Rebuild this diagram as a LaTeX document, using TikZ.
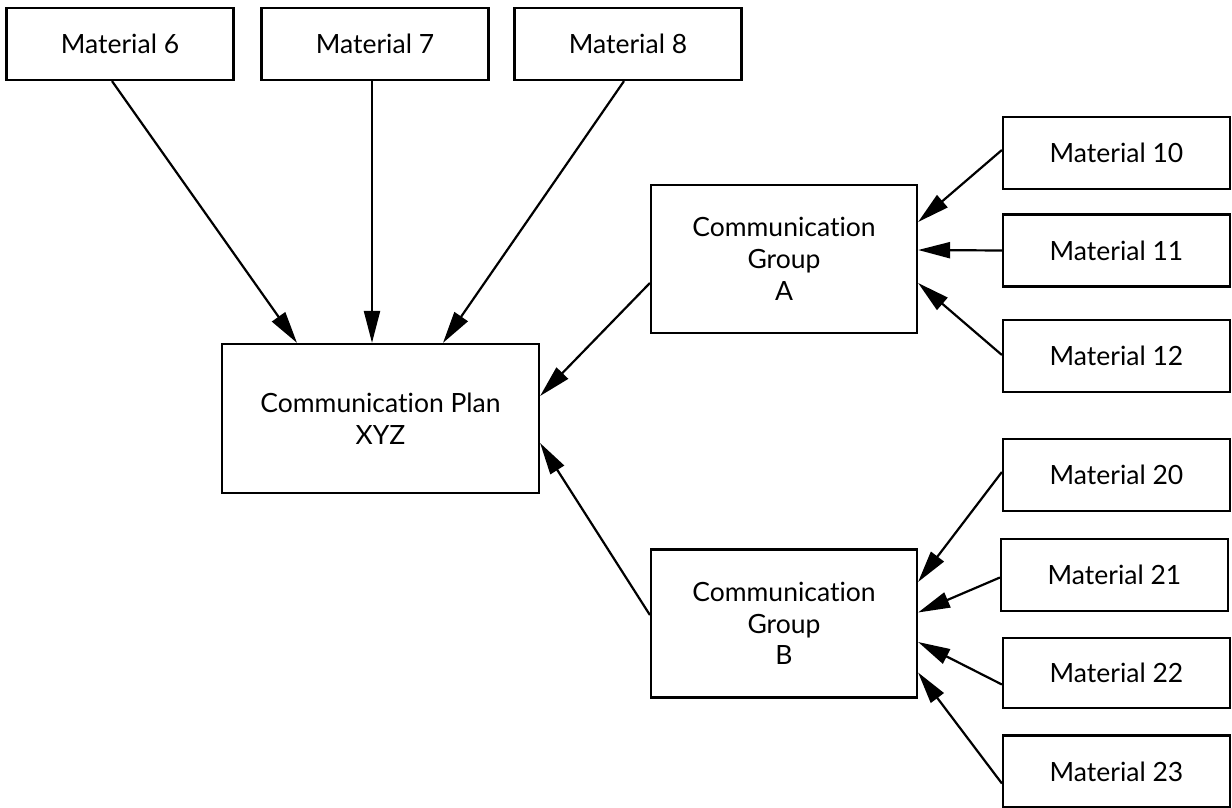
\documentclass[tikz,border=0pt]{standalone}
\usepackage{fontspec}
\setmainfont{Lato}[Ligatures=NoCommon]
\usetikzlibrary{arrows.meta}
\begin{document}
\begin{tikzpicture}[x=1pt,y=-1pt,
  box/.style={draw, line width=2.2pt, inner sep=0pt, align=center,
    font=\fontsize{26.5}{31.7}\selectfont},
  mat/.style={box, minimum width=227pt, minimum height=72pt},
  grp/.style={box, minimum width=266pt, minimum height=148pt},
  link/.style={line width=2.2pt, -{Triangle[length=32pt,width=16pt]}}]
\useasboundingbox (0,0) rectangle (1232,808);

% top row of materials
\node[mat] (m6) at (120,44) {Material 6};
\node[mat] (m7) at (375,44) {Material 7};
\node[mat] (m8) at (628,44) {Material 8};

% plan and the two groups
\node[box, minimum width=317pt, minimum height=149pt] (plan) at (380.5,418.5) {Communication Plan\\XYZ};
\node[grp] (ga) at (784,259) {Communication\\Group\\A};
\node[grp] (gb) at (784,623.5) {Communication\\Group\\B};

% materials feeding group A
\node[mat] (m10) at (1116.5,153) {Material 10};
\node[mat] (m11) at (1116.5,250.5) {Material 11};
\node[mat] (m12) at (1116.5,356) {Material 12};

% materials feeding group B
\node[mat] (m20) at (1116.5,475) {Material 20};
\node[mat] (m21) at (1114.5,575) {Material 21};
\node[mat, minimum height=70pt] (m22) at (1116.5,673) {Material 22};
\node[mat] (m23) at (1116.5,771.5) {Material 23};

% connectors into the plan
\draw[link] ([xshift=-8pt]m6.south) -- ([xshift=-83.5pt]plan.north);
\draw[link] ([xshift=-3pt]m7.south) -- ([xshift=-8.5pt]plan.north);
\draw[link] ([xshift=-4pt]m8.south) -- ([xshift=62.5pt]plan.north);
\draw[link] ([yshift=-24pt]ga.west) -- ([yshift=22.5pt]plan.east);
\draw[link] ([yshift=8.5pt]gb.west) -- ([yshift=-24.5pt]plan.east);

% connectors into group A
\draw[link] ([yshift=3pt]m10.west) -- ([yshift=37pt]ga.east);
\draw[link] (m11.west) -- ([yshift=9pt]ga.east);
\draw[link] ([yshift=1pt]m12.west) -- ([yshift=-24pt]ga.east);

% connectors into group B
\draw[link] ([yshift=3pt]m20.west) -- ([yshift=41.5pt]gb.east);
\draw[link] ([yshift=-2.5pt]m21.west) -- ([yshift=11pt]gb.east);
\draw[link] ([yshift=-11.5pt]m22.west) -- ([yshift=-18.5pt]gb.east);
\draw[link] ([yshift=-12pt]m23.west) -- ([yshift=-49pt]gb.east);
\end{tikzpicture}
\end{document}
